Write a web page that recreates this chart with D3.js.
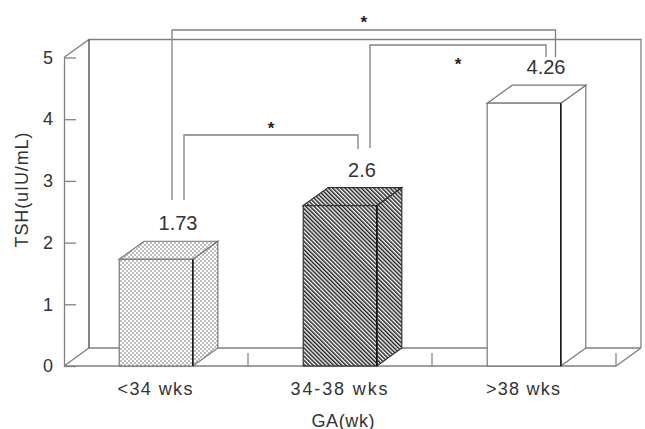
<!DOCTYPE html>
<html><head><meta charset="utf-8">
<script src="https://cdn.jsdelivr.net/npm/d3@7"></script>
<style>
html,body{margin:0;padding:0;background:#fff;}
svg{display:block;font-family:"Liberation Sans",Arial,sans-serif;}
</style></head>
<body>
<svg id="chart" width="645" height="429"></svg>
<script>
// ---- data ----
const categories = ["<34 wks", "34-38 wks", ">38 wks"];
const values = [1.73, 2.6, 4.26];
const valueLabels = ["1.73", "2.6", "4.26"];
const yTicks = [0, 1, 2, 3, 4, 5];
const fills = ["dots", "hatch", "plain"];
const comparisons = [[0, 2], [1, 2], [0, 1]];
const sigMark = "*";
const xTitle = "GA(wk)";
const yTitle = "TSH(uIU/mL)";

// ---- layout ----
const svg = d3.select("#chart");
const left = 64, right = 616, base = 366, top5 = 57.5;
const DX = 25, DY = -18;
const x = d3.scaleBand().domain(categories).range([left, right]).paddingInner(0.6).paddingOuter(0.3);
const y = d3.scaleLinear().domain([0, 5]).range([base, top5]);
const lineCol = "#808080", textCol = "#333";

// patterns
const defs = svg.append("defs");
const pd = defs.append("pattern").attr("id", "dots").attr("patternUnits", "userSpaceOnUse")
  .attr("width", 4).attr("height", 4);
pd.append("rect").attr("width", 4).attr("height", 4).attr("fill", "#fff");
pd.append("rect").attr("width", 2).attr("height", 2).attr("fill", "#bdbdbd");
pd.append("rect").attr("x", 2).attr("y", 2).attr("width", 2).attr("height", 2).attr("fill", "#bdbdbd");
const ph = defs.append("pattern").attr("id", "hatch").attr("patternUnits", "userSpaceOnUse")
  .attr("width", 2.9).attr("height", 10).attr("patternTransform", "rotate(-45)");
ph.append("rect").attr("width", 2.9).attr("height", 10).attr("fill", "#fff");
ph.append("rect").attr("width", 1.5).attr("height", 10).attr("fill", "#222");

// back wall and floor
const g = svg.append("g");
const ymax = y(5);
g.append("path").attr("fill", "none").attr("stroke", lineCol).attr("stroke-width", 1.3)
  .attr("d", `M${left},${ymax}L${left + DX},${ymax + DY}L${right + DX},${ymax + DY}L${right + DX},${base + DY}`);
g.append("line").attr("x1", left + DX).attr("x2", left + DX).attr("y1", ymax + DY).attr("y2", base + DY)
  .attr("stroke", "#444").attr("stroke-width", 1.3);
g.append("path").attr("fill", "none").attr("stroke", lineCol).attr("stroke-width", 1.3)
  .attr("d", `M${left},${base}L${left + DX},${base + DY}L${right + DX},${base + DY}M${left},${base}L${right},${base}L${right + DX},${base + DY}`);
// floor category boundary ticks
const step = x.step();
g.selectAll("line.ft").data(categories).enter().append("line").attr("class", "ft")
  .attr("x1", (d, i) => left + (i + 1) * step).attr("x2", (d, i) => left + (i + 1) * step)
  .attr("y1", base).attr("y2", base - 13).attr("stroke", lineCol).attr("stroke-width", 1.2);

// y axis
const yAxis = d3.axisLeft(y).tickValues(yTicks).tickFormat(d3.format("d"))
  .tickSizeInner(-12).tickSizeOuter(0).tickPadding(11);
const ya = svg.append("g").attr("transform", `translate(${left},0)`).call(yAxis);
ya.select(".domain").attr("stroke", lineCol).attr("stroke-width", 1.3);
ya.selectAll(".tick line").attr("stroke", lineCol).attr("stroke-width", 1.3);
ya.selectAll(".tick text").attr("fill", textCol).attr("font-size", 18)
  .attr("font-family", "'Liberation Sans',Arial,sans-serif");

// bars
const bw = x.bandwidth();
const bars = svg.selectAll("g.bar").data(values).enter().append("g").attr("class", "bar");
bars.each(function (v, i) {
  const gb = d3.select(this);
  const x0 = x(categories[i]), x1 = x0 + bw, yt = y(v);
  const f = fills[i] === "plain" ? "#fff" : `url(#${fills[i]})`;
  const st = fills[i] === "hatch" ? "#333" : "#777";
  gb.append("path").attr("fill", f).attr("stroke", st).attr("stroke-width", 1.2)
    .attr("d", `M${x1},${base}L${x1 + DX},${base + DY}L${x1 + DX},${yt + DY}L${x1},${yt}Z`);
  gb.append("path").attr("fill", f).attr("stroke", st).attr("stroke-width", 1.2)
    .attr("d", `M${x0},${yt}L${x0 + DX},${yt + DY}L${x1 + DX},${yt + DY}L${x1},${yt}Z`);
  gb.append("rect").attr("x", x0).attr("y", yt).attr("width", bw).attr("height", base - yt)
    .attr("fill", f).attr("stroke", st).attr("stroke-width", 1.2);
  gb.append("line").attr("x1", x1).attr("x2", x1).attr("y1", yt).attr("y2", base)
    .attr("stroke", "#111").attr("stroke-width", 1.4);
});

// value labels
svg.selectAll("text.val").data(values).enter().append("text").attr("class", "val")
  .attr("x", (d, i) => x(categories[i]) + bw / 2 + 22)
  .attr("y", d => y(d) - 29)
  .attr("text-anchor", "middle").attr("font-size", 20).attr("fill", textCol)
  .text((d, i) => valueLabels[i]);

// category labels
const catW = [75, 97, 74];
svg.selectAll("text.cat").data(categories).enter().append("text").attr("class", "cat")
  .attr("x", d => x(d) + bw / 2 - 1).attr("y", 395)
  .attr("text-anchor", "middle").attr("font-size", 18).attr("fill", textCol)
  .attr("textLength", (d, i) => catW[i]).attr("lengthAdjust", "spacing")
  .text(d => d);

// axis titles
svg.append("text").attr("x", 343).attr("y", 426.5).attr("text-anchor", "middle")
  .attr("font-size", 18).attr("fill", textCol).attr("textLength", 63).attr("lengthAdjust", "spacing")
  .text(xTitle);
svg.append("text").attr("transform", "translate(28,190) rotate(-90)").attr("text-anchor", "middle")
  .attr("font-size", 18).attr("fill", textCol).attr("textLength", 115).attr("lengthAdjust", "spacing")
  .text(yTitle);

// significance brackets
const bracketLayout = [
  { yl: 30, dxA: 16, dxB: 31.5, yA: 200, yB: 57, starDy: -12 },
  { yl: 45, dxA: 30, dxB: 22, yA: 148, yB: 57, starDy: 15 },
  { yl: 135, dxA: 28, dxB: 18, yA: 200, yB: 149, starDy: -11 }
];
const cx = i => x(categories[i]) + bw / 2;
comparisons.forEach((c, k) => {
  const L = bracketLayout[k];
  const xa = cx(c[0]) + L.dxA, xb = cx(c[1]) + L.dxB;
  svg.append("path").attr("fill", "none").attr("stroke", lineCol).attr("stroke-width", 1.3)
    .attr("d", `M${xa},${L.yA}L${xa},${L.yl}L${xb},${L.yl}L${xb},${L.yB}`);
  svg.append("text").attr("x", (xa + xb) / 2).attr("y", L.yl + L.starDy + 10)
    .attr("text-anchor", "middle").attr("font-size", 17).attr("font-weight", "bold").attr("fill", "#222")
    .text(sigMark);
});
</script>
</body></html>
